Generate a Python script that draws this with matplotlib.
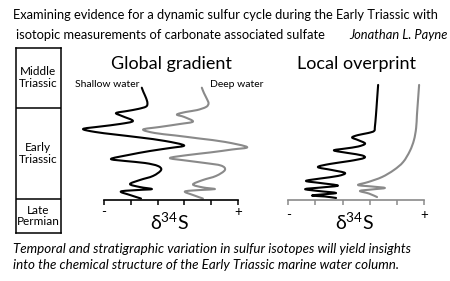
import numpy as np
import matplotlib
matplotlib.use("Agg")
import matplotlib.pyplot as plt
from matplotlib.path import Path
from matplotlib.patches import PathPatch

plt.rcParams['font.family'] = ['Lato', 'DejaVu Sans']
plt.rcParams['mathtext.default'] = 'regular'

# stratigraphic height units (column 0..10), delta34S in relative tick units (0..5)
stage_names = ["Late\nPermian", "Early\nTriassic", "Middle\nTriassic"]
stage_bounds = [0.0, 1.87, 6.76, 10.0]

# Global gradient - shallow water (black)
shallow_d34s = [1.41, 1.47, 1.57, 1.62, 1.57, 1.27, 0.86, 0.45, 0.67, 1.08, 0.60, -0.15, -0.78,
                -0.34, 0.41, 1.34, 2.28, 2.99, 2.46, 1.72, 0.90, 0.26, 0.78, 1.53, 2.01, 2.13,
                1.83, 1.34, 0.97, 1.34, 1.79, 1.27, 0.63, 0.97, 1.38]
shallow_h = [7.87, 7.64, 7.31, 7.04, 6.85, 6.72, 6.61, 6.50, 6.34, 6.07, 5.91, 5.77, 5.64,
             5.48, 5.34, 5.18, 4.99, 4.75, 4.61, 4.45, 4.23, 4.02, 3.91, 3.80, 3.64, 3.42,
             3.10, 2.88, 2.66, 2.50, 2.39, 2.34, 2.26, 2.07, 1.88]

# Global gradient - deep water (gray)
deep_d34s = [3.65, 3.73, 3.84, 3.90, 3.81, 3.47, 3.06, 2.72, 2.99, 3.32, 2.84, 2.09, 1.46,
             1.90, 2.65, 3.58, 4.51, 5.34, 4.78, 3.96, 3.13, 2.46, 3.02, 3.77, 4.37, 4.51,
             4.18, 3.69, 3.32, 3.69, 4.14, 3.58, 3.02, 3.32, 3.69]
deep_h = [7.87, 7.58, 7.26, 7.02, 6.83, 6.66, 6.56, 6.42, 6.29, 6.04, 5.91, 5.75, 5.61,
          5.42, 5.29, 5.12, 4.94, 4.66, 4.53, 4.37, 4.23, 4.07, 3.94, 3.80, 3.66, 3.42,
          3.10, 2.88, 2.64, 2.48, 2.39, 2.34, 2.26, 2.07, 1.88]

# Local overprint - shallow (black)
local_sh_d34s = [3.31, 3.27, 3.23, 3.19, 3.16, 2.94, 2.57, 2.35, 2.57, 2.83, 2.57, 2.09,
                 1.68, 2.20, 2.72, 2.79, 2.27, 1.54, 1.09, 1.61, 2.09, 1.83, 1.17, 0.65,
                 1.17, 1.83, 1.24, 0.62, 1.09, 1.76, 1.24, 0.87, 1.35, 1.76]
local_sh_h = [8.02, 7.21, 6.39, 5.75, 5.53, 5.42, 5.31, 5.18, 5.04, 4.85, 4.69, 4.58,
              4.48, 4.34, 4.21, 4.07, 3.91, 3.75, 3.58, 3.42, 3.26, 3.10, 2.96, 2.83,
              2.72, 2.58, 2.48, 2.39, 2.29, 2.18, 2.10, 2.04, 1.99, 1.91]

# Local overprint - deep (gray)
local_dp_d34s = [4.82, 4.78, 4.74, 4.71, 4.63, 4.48, 4.23, 3.89, 3.45, 2.94, 2.57, 3.08,
                 3.56, 3.08, 2.64, 2.97, 3.27]
local_dp_h = [8.02, 7.21, 6.39, 5.69, 5.04, 4.45, 3.85, 3.42, 3.04, 2.77, 2.61, 2.53,
              2.45, 2.37, 2.29, 2.15, 1.96]

ticks = [0, 1, 2, 3, 4, 5]
tick_labels = ['-', '', '', '', '', '+']
axis_level = 1.8
gray = '#8a8a8a'

W, H = 450, 281
fig = plt.figure(figsize=(4.5, 2.81), dpi=100)


def px_axes(x0, y0, x1, y1):
    return fig.add_axes([x0 / W, 1 - y1 / H, (x1 - x0) / W, (y1 - y0) / H])


def smooth_path(ax, xs, ys):
    # cubic bezier through the read points (catmull-rom style handles, in display space)
    pts = ax.transData.transform(np.column_stack([xs, ys]))
    n = len(pts)
    verts = [pts[0]]
    codes = [Path.MOVETO]
    for i in range(n - 1):
        p0 = pts[max(i - 1, 0)]
        p1 = pts[i]
        p2 = pts[i + 1]
        p3 = pts[min(i + 2, n - 1)]
        verts += [p1 + (p2 - p0) / 6, p2 - (p3 - p1) / 6, p2]
        codes += [Path.CURVE4] * 3
    return Path(ax.transData.inverted().transform(np.array(verts)), codes)


# stratigraphic column
axc = px_axes(15.5, 48.3, 60.7, 233.3)
axc.set_xlim(0, 1)
axc.set_ylim(0, 10)
axc.set_xticks([])
axc.set_yticks([])
for s in axc.spines.values():
    s.set_linewidth(1.1)
for b in stage_bounds[1:-1]:
    axc.axhline(b, color='black', lw=1.1)
for i, name in enumerate(stage_names):
    mid = (stage_bounds[i] + stage_bounds[i + 1]) / 2
    if i == 2:
        mid = 8.4
    axc.text(0.5, mid, name, ha='center', va='center', fontsize=8.5, linespacing=1.1)


def panel(x0, x1, xlim, title, curves, axcolor, label_pad):
    ax = px_axes(x0, 48.3, x1, 233.3)
    ax.set_xlim(*xlim)
    ax.set_ylim(0, 10)
    ax.patch.set_alpha(0)
    for k in ['top', 'left', 'right']:
        ax.spines[k].set_visible(False)
    ax.spines['bottom'].set_position(('data', axis_level))
    ax.spines['bottom'].set_bounds(0, 5)
    ax.spines['bottom'].set_color(axcolor)
    ax.spines['bottom'].set_linewidth(1.2)
    ax.set_yticks([])
    ax.set_xticks(ticks)
    ax.set_xticklabels(tick_labels, fontsize=9.5)
    ax.tick_params(axis='x', direction='out', length=3.5, width=1.1, color=axcolor,
                   pad=label_pad)
    for xs, ys, c in curves:
        ax.add_patch(PathPatch(smooth_path(ax, xs, ys), facecolor='none', edgecolor=c,
                               lw=1.5, joinstyle='round', capstyle='round', clip_on=False))
    ax.text(2.5, 9.15, title, ha='center', va='center', fontsize=13)
    ax.text(2.45, 0.58, 'δ$^{34}$S', ha='center', va='center', fontsize=14)
    return ax


axl = panel(65, 265, (-1.455, 6.007), 'Global gradient',
            [(deep_d34s, deep_h, gray), (shallow_d34s, shallow_h, 'black')], 'black', 0.5)
axl.text(0.11, 8.02, 'Shallow water', ha='center', va='center', fontsize=7.5)
axl.text(4.96, 8.02, 'Deep water', ha='center', va='center', fontsize=7.5)

axr = panel(265, 445, (-0.859, 5.774), 'Local overprint',
            [(local_dp_d34s, local_dp_h, gray), (local_sh_d34s, local_sh_h, 'black')], gray, 3)

# header and caption
fig.text(13 / W, 1 - 15 / H,
         'Examining evidence for a dynamic sulfur cycle during the Early Triassic with',
         ha='left', va='center', fontsize=9.3)
fig.text(16 / W, 1 - 35 / H, 'isotopic measurements of carbonate associated sulfate',
         ha='left', va='center', fontsize=9.3)
fig.text(448 / W, 1 - 35 / H, 'Jonathan L. Payne', ha='right', va='center',
         fontsize=9.3, style='italic')
fig.text(13 / W, 1 - 249 / H,
         'Temporal and stratigraphic variation in sulfur isotopes will yield insights',
         ha='left', va='center', fontsize=9.6, style='italic')
fig.text(13 / W, 1 - 265 / H,
         'into the chemical structure of the Early Triassic marine water column.',
         ha='left', va='center', fontsize=9.6, style='italic')

fig.savefig('out.png', dpi=100)
